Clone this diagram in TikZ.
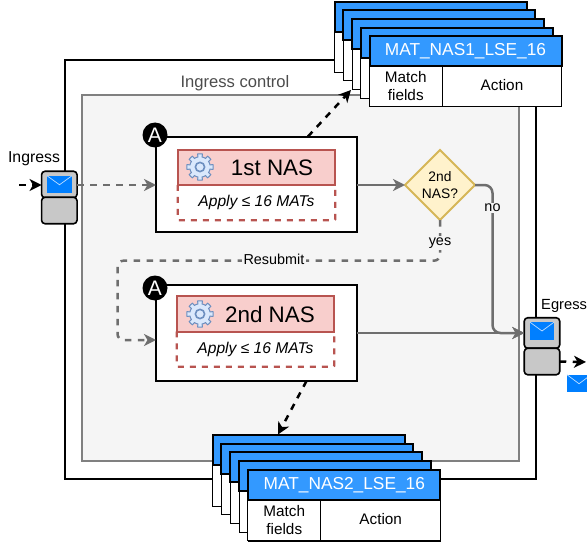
\documentclass[tikz,border=0pt]{standalone}
\usepackage{fontspec}
\setmainfont{Liberation Sans}
\usetikzlibrary{arrows.meta,shapes.geometric,calc}
\definecolor{envblue}{HTML}{007FFF}
\definecolor{hdrblue}{HTML}{3399FF}
\definecolor{swgray}{HTML}{C8C8C8}
\definecolor{panelfill}{HTML}{F5F5F5}
\definecolor{panelline}{HTML}{808080}
\definecolor{redfill}{HTML}{F8CECC}
\definecolor{redline}{HTML}{B85450}
\definecolor{gearfill}{HTML}{DAE8FC}
\definecolor{gearline}{HTML}{6C8EBF}
\definecolor{diafill}{HTML}{FFF2CC}
\definecolor{dialine}{HTML}{D6B656}
\definecolor{flow}{HTML}{6E6E6E}
\tikzset{
  box/.style={draw,inner sep=0pt,outer sep=0pt,anchor=center},
  switchbox/.style={box,fill=swgray,line width=1.6pt,rounded corners=3.5pt,minimum width=35.5pt,minimum height=26.5pt},
  nasbox/.style={box,fill=white,line width=2pt,minimum width=201pt,minimum height=95.5pt},
  titlebox/.style={box,fill=redfill,draw=redline,line width=2.4pt,minimum width=157.5pt,minimum height=35.5pt,font=\fontsize{22.4}{26}\selectfont},
  applybox/.style={box,fill=white,draw=redline,line width=2.4pt,dash pattern=on 6pt off 6pt,rounded corners=1pt,minimum width=157.5pt,minimum height=35.5pt,font=\itshape\fontsize{15.6}{18}\selectfont},
  badge/.style={circle,fill=black,text=white,inner sep=0pt,minimum size=25pt,font=\fontsize{21}{25}\selectfont},
  envelope/.style={box,draw=none,fill=envblue},
  tabwhite/.style={box,fill=white,line width=1pt,minimum width=192pt,minimum height=71pt},
  tabhead/.style={box,fill=hdrblue,line width=2pt,text=white,minimum width=192pt,minimum height=30pt,font=\fontsize{17.3}{20}\selectfont},
  cell/.style={box,draw=black,fill=white,line width=1pt,align=center,font=\fontsize{15.3}{18}\selectfont},
  flowline/.style={draw=flow,line width=2.5pt,-{Stealth[length=12pt,width=12pt,inset=3.5pt]}},
  flowdash/.style={flowline,dash pattern=on 6.5pt off 6.5pt},
  blackdash/.style={draw=black,line width=2.5pt,dash pattern=on 6.5pt off 6.5pt,-{Stealth[length=12pt,width=12pt,inset=3.5pt]}},
  lab/.style={inner sep=1.5pt,font=\fontsize{14.4}{17}\selectfont},
  plain/.style={inner sep=0pt,font=\fontsize{16.6}{19}\selectfont},
}
\newcommand{\gearicon}[2]{%
  \draw[fill=gearfill,draw=gearline,line width=1pt,shift={(#1,#2)}]
    plot[samples=145,domain=0:360] (\x:{10.2+3*(cos(8*\x)>0.05?1:0)}) -- cycle;
  \draw[fill=gearfill,draw=gearline,line width=1.6pt] (#1,#2) circle[radius=4.6];
}
\newcommand{\envlines}[1]{%
  \draw[white!75!envblue,line width=0.7pt] (#1.north west) -- ($(#1.north)+(0,9)$) -- (#1.north east);
}
\newcommand{\stacktab}[3]{%
  \node[tabwhite] (#1w) at (#2+96,#3+35.5) {};
  \node[tabhead] (#1h) at (#2+96,#3+15) {};
}
\newcommand{\upcell}[1]{\raisebox{4.5pt}{\parbox{70pt}{\centering #1}}}
\begin{document}
\begin{tikzpicture}[x=1pt,y=-1pt]
\useasboundingbox (0,0) rectangle (587,543);
% enclosures
\node[box,line width=2.5pt,minimum width=471pt,minimum height=419pt] (outer) at (300.5,269.5) {};
\node[box,fill=panelfill,draw=panelline,line width=2pt,minimum width=437pt,minimum height=366pt] (panel) at (300.5,278) {};
\node[plain,text=black!70] (ictl) at (235,83) {Ingress control};
% top tables
\stacktab{ta}{334.7}{1.7}
\stacktab{tb}{343.3}{10}
\stacktab{tc}{352}{19}
\stacktab{td}{360.7}{27.7}
\node[tabwhite] (tew) at (465.5,71.5) {};
\node[cell,minimum width=73pt,minimum height=41pt] (tem) at (405.8,86.5) {\upcell{Match\\fields}};
\node[cell,minimum width=119.5pt,minimum height=41pt] (tea) at (502,86.5) {\upcell{Action}};
\node[tabhead] (teh) at (465.5,51) {MAT\_NAS1\_LSE\_16};
% bottom tables
\stacktab{ba}{212.7}{435}
\stacktab{bb}{221.4}{443.7}
\stacktab{bc}{230}{452.4}
\stacktab{bd}{239}{461}
\node[tabwhite] (bew) at (344.3,505.5) {};
\node[cell,minimum width=73pt,minimum height=41pt] (bem) at (284.3,520) {\upcell{Match\\fields}};
\node[cell,minimum width=120pt,minimum height=41pt] (bea) at (380.7,520) {\upcell{Action}};
\node[tabhead] (beh) at (344.3,485) {MAT\_NAS2\_LSE\_16};
% NAS 1
\node[nasbox] (n1) at (256.5,184.5) {};
\node[applybox] (a1) at (256.5,202.5) {Apply ≤ 16 MATs};
\node[titlebox] (t1) at (256.5,167.5) {\hspace*{31pt}1st NAS};
\gearicon{200}{167}
\node[badge] (b1) at (155,135) {A};
% NAS 2
\node[nasbox] (n2) at (256.5,333) {};
\node[applybox] (a2) at (255.5,349) {Apply ≤ 16 MATs};
\node[titlebox] (t2) at (255.5,314) {\hspace*{29pt}2nd NAS};
\gearicon{200}{314}
\node[badge] (b2) at (155,288) {A};
% decision
\node[diamond,draw=dialine,fill=diafill,line width=2pt,inner sep=0pt,outer sep=0pt,aspect=1,minimum width=70pt,minimum height=70pt,align=center,font=\fontsize{13.8}{17.5}\selectfont] (d) at (440,185) {2nd\\NAS?};
% switches
\node[switchbox] (is) at (59.3,184.5) {};
\node[switchbox] (ib) at (59.3,210.5) {};
\node[envelope,minimum width=25pt,minimum height=17.5pt] (ie) at (59.5,184.5) {};
\envlines{ie}
\node[switchbox,minimum height=30.5pt] (es) at (542,333) {};
\node[switchbox] (eb) at (542,361.5) {};
\node[envelope,minimum width=24.5pt,minimum height=18pt] (ee) at (542,331) {};
\envlines{ee}
\node[envelope,minimum width=24pt,minimum height=17.5pt] (oe) at (579,383.5) {};
\envlines{oe}
\node[plain,font=\fontsize{15.8}{19}\selectfont] (il) at (34,159) {Ingress};
\node[plain,font=\fontsize{14.7}{19}\selectfont,anchor=west] (el) at (541,306) {Egress};
% waypoints
\coordinate (inS) at (19,185);
\coordinate (outE) at (586,362);
\coordinate (noC) at (492.5,185);
\coordinate (noD) at (492.5,333);
\coordinate (yesA) at (440,260.7);
\coordinate (yesB) at (117.5,260.7);
\coordinate (yesC) at (117.5,340);
\coordinate (topT) at (351,90);
\coordinate (botT) at (278,434.5);
\coordinate (topS) at (308,136.5);
\coordinate (botS) at (306.5,381);
% connectors
\draw[blackdash] (inS) -- (is.west |- inS);
\draw[flowdash] (is.east |- inS) -- (n1.west |- inS);
\draw[flowline] (n1.east |- d) -- (d.west);
\draw[flowline] (n2.east) -- (es.west);
\draw[flowline,rounded corners=8pt] (d.east) -- (noC) -- (noD) -- (es.west);
\draw[flowdash,rounded corners=6pt] (d.south) -- (yesA) -- (yesB) -- (yesC) -- (n2.west |- yesC);
\draw[blackdash] (topS) -- (topT);
\draw[blackdash] (botS) -- (botT);
\draw[blackdash] (eb.east) -- (outE);
% connector labels
\node[lab,fill=panelfill] (ly) at (440,243) {yes};
\node[lab,fill=panelfill] (ln) at (492.5,208) {no};
\node[lab,fill=panelfill] (lr) at (274,259.5) {Resubmit};
\end{tikzpicture}
\end{document}
